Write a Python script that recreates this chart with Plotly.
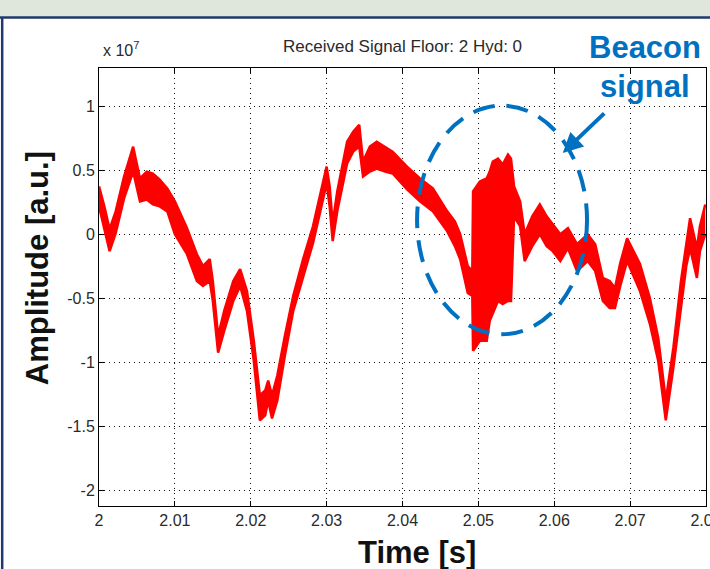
import plotly.graph_objects as go

# time axis [s]
time_s = [2.0000, 2.0007, 2.0014, 2.0022, 2.0033, 2.0045, 2.0054, 2.0063, 2.0071, 2.0080,
          2.0090, 2.0100, 2.0116, 2.0129, 2.0137, 2.0146, 2.0150, 2.0157, 2.0165, 2.0177,
          2.0186, 2.0195, 2.0204, 2.0212, 2.0219, 2.0223, 2.0228, 2.0235, 2.0245, 2.0256,
          2.0269, 2.0282, 2.0291, 2.0300, 2.0304, 2.0308, 2.0314, 2.0327, 2.0335, 2.0343,
          2.0348, 2.0357, 2.0366, 2.0377, 2.0387, 2.0397, 2.0406, 2.0423, 2.0440, 2.0459,
          2.0469, 2.0476, 2.0486, 2.0492, 2.0493, 2.0502, 2.0511, 2.0515, 2.0519, 2.0526,
          2.0532, 2.0539, 2.0543, 2.0547, 2.0555, 2.0561, 2.0571, 2.0581, 2.0590, 2.0598,
          2.0608, 2.0618, 2.0630, 2.0644, 2.0654, 2.0664, 2.0673, 2.0680, 2.0687, 2.0696,
          2.0713, 2.0726, 2.0737, 2.0747, 2.0757, 2.0767, 2.0774, 2.0779, 2.0788, 2.0792,
          2.0799]

# upper envelope of received signal [x 1e7 a.u.]
amp_upper = [0.374, 0.218, 0.039, 0.179, 0.451, 0.685, 0.436, 0.490, 0.475, 0.428,
             0.358, 0.257, 0.047, -0.156, -0.249, -0.195, -0.366, -0.794, -0.599, -0.366,
             -0.272, -0.444, -0.833, -1.261, -1.222, -1.144, -1.261, -1.105, -0.794, -0.482,
             -0.195, 0.062, 0.296, 0.529, 0.374, 0.086, 0.335, 0.724, 0.802, 0.856,
             0.568, 0.685, 0.724, 0.685, 0.646, 0.584, 0.529, 0.436, 0.358, 0.179,
             0.101, 0.000, -0.249, -0.288, 0.335, 0.412, 0.436, 0.490, 0.568, 0.591,
             0.545, 0.623, 0.591, 0.374, 0.257, 0.000, 0.140, 0.233, 0.140, 0.078,
             0.000, 0.047, -0.078, 0.000, -0.078, -0.342, -0.366, -0.420, -0.226, -0.031,
             -0.233, -0.498, -0.809, -1.300, -0.887, -0.366, -0.054, 0.125, -0.109, 0.062,
             0.233]

# lower envelope of received signal [x 1e7 a.u.]
amp_lower = [0.218, 0.039, -0.132, 0.008, 0.280, 0.490, 0.257, 0.272, 0.233, 0.218,
             0.179, 0.000, -0.156, -0.366, -0.405, -0.366, -0.521, -0.926, -0.755, -0.521,
             -0.405, -0.599, -0.988, -1.455, -1.416, -1.300, -1.440, -1.300, -0.949, -0.599,
             -0.327, -0.070, 0.163, 0.397, 0.218, -0.054, 0.179, 0.553, 0.646, 0.685,
             0.451, 0.490, 0.514, 0.490, 0.475, 0.412, 0.350, 0.257, 0.179, 0.023,
             -0.093, -0.195, -0.459, -0.482, -0.911, -0.833, -0.833, -0.677, -0.623, -0.521,
             -0.545, -0.521, -0.521, 0.140, 0.062, -0.210, -0.093, 0.000, -0.093, -0.132,
             -0.210, -0.109, -0.288, -0.210, -0.288, -0.521, -0.576, -0.576, -0.405, -0.210,
             -0.444, -0.700, -0.988, -1.455, -1.043, -0.576, -0.249, -0.109, -0.342, -0.132,
             0.000]

x_ticks = [2.00, 2.01, 2.02, 2.03, 2.04, 2.05, 2.06, 2.07, 2.08]
x_tick_labels = ["2", "2.01", "2.02", "2.03", "2.04", "2.05", "2.06", "2.07", "2.08"]
y_ticks = [-2, -1.5, -1, -0.5, 0, 0.5, 1]
y_tick_labels = ["-2", "-1.5", "-1", "-0.5", "0", "0.5", "1"]

RED = "#ff0000"
BLUE = "#0070c0"
FONT = "Liberation Sans, Arial, sans-serif"

fig = go.Figure()
fig.add_trace(go.Scatter(x=time_s, y=amp_lower, mode="lines",
                         line=dict(color=RED, width=2.5), hoverinfo="skip",
                         showlegend=False))
fig.add_trace(go.Scatter(x=time_s, y=amp_upper, mode="lines", fill="tonexty",
                         fillcolor=RED, line=dict(color=RED, width=2.5),
                         showlegend=False))

axis_common = dict(showline=True, linecolor="black", linewidth=1, mirror="ticks",
                   ticks="inside", ticklen=5, tickcolor="black",
                   showgrid=True, gridcolor="#111", griddash="1px,4px", gridwidth=1.2,
                   zeroline=False, ticklabeloverflow="allow", automargin=False,
                   tickfont=dict(family=FONT, size=16, color="#2a2a2a"))

fig.update_xaxes(range=[2.0, 2.08], tickvals=x_ticks, ticktext=x_tick_labels, **axis_common)
fig.update_yaxes(range=[-2.125, 1.30], tickvals=y_ticks, ticktext=y_tick_labels, **axis_common)

shapes = [
    # top band and frame
    dict(type="rect", xref="paper", yref="paper", x0=-0.2, x1=1.1, y0=1.1164, y1=1.2,
         fillcolor="#dfe6dc", line=dict(width=0), layer="below"),
    dict(type="line", xref="paper", yref="paper", x0=-0.2, x1=1.1, y0=1.1153, y1=1.1153,
         line=dict(color="#1f3a6e", width=2.5)),
    dict(type="line", xref="paper", yref="paper", x0=-0.1595, x1=-0.1595, y0=-0.2, y1=1.1153,
         line=dict(color="#1f3a6e", width=2.5)),
    # dashed ellipse around beacon signal
    dict(type="circle", xref="paper", yref="paper", x0=0.524, x1=0.804, y0=0.392, y1=0.914,
         line=dict(color=BLUE, width=4, dash="22px,12px")),
]

def label(text, x, y, size, color, angle=0, xanchor="center"):
    return dict(text=text, x=x, y=y, xref="paper", yref="paper", showarrow=False,
                xanchor=xanchor, yanchor="middle", textangle=angle,
                font=dict(family=FONT, size=size, color=color))

annotations = [
    label("Received Signal Floor: 2 Hyd: 0", 0.5, 1.048, 17, "#2a2a2a"),
    label("x 10<sup>7</sup>", 0.003, 1.043, 16, "#2a2a2a", xanchor="left"),
    label("<b>Amplitude [a.u.]</b>", -0.102, 0.543, 31, "#111", angle=-90),
    label("<b>Time [s]</b>", 0.524, -0.107, 31, "#111"),
    label("<b>Beacon</b>", 0.8995, 1.046, 31, BLUE),
    label("<b>signal</b>", 0.8995, 0.957, 31, BLUE),
    dict(text="", x=0.764, y=0.806, xref="paper", yref="paper", showarrow=True,
         ax=43, ay=-41, arrowhead=2, arrowsize=1, arrowwidth=4, arrowcolor=BLUE),
]

fig.update_layout(width=710, height=569, margin=dict(l=99, r=4, t=68, b=63, pad=0, autoexpand=False),
                  paper_bgcolor="white", plot_bgcolor="white",
                  shapes=shapes, annotations=annotations, showlegend=False)

fig.write_html("out.html")
